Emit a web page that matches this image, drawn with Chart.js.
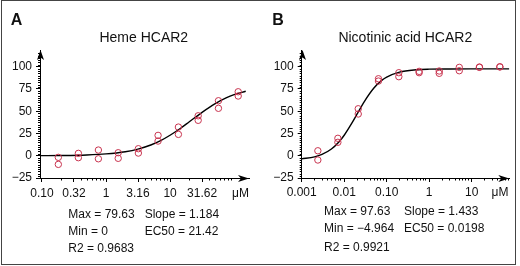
<!DOCTYPE html>
<html><head><meta charset="utf-8">
<script src="https://cdn.jsdelivr.net/npm/chart.js@4/dist/chart.umd.min.js"></script>
<style>
html,body{margin:0;padding:0;background:#fff;}
#fig{position:relative;width:520px;height:266px;overflow:hidden;font-family:"Liberation Sans",Arial,sans-serif;color:#111;}
#frame{position:absolute;left:1px;top:0;width:513px;height:263px;border:1px solid #444;pointer-events:none;}
canvas{position:absolute;top:0;}
.t{position:absolute;white-space:nowrap;line-height:1;font-size:12px;}
.c{transform:translate(-50%,-50%);}
.l{transform:translate(0,-50%);}
</style></head><body>
<div id="fig">
 <canvas id="cA" width="260" height="266" style="left:0;width:260px;height:266px"></canvas>
 <canvas id="cB" width="260" height="266" style="left:260px;width:260px;height:266px"></canvas>
 <div id="frame"></div>
 <div class="t c" style="left:16.5px;top:19.5px;font-size:16px;font-weight:bold">A</div>
 <div class="t c" style="left:278px;top:19.5px;font-size:16px;font-weight:bold">B</div>
 <div class="t c" style="left:143.8px;top:37px;font-size:14px">Heme HCAR2</div>
 <div class="t c" style="left:405.3px;top:36.7px;font-size:14px">Nicotinic acid HCAR2</div>
 <div class="t c" style="left:240.5px;top:193px">μM</div>
 <div class="t c" style="left:500px;top:192px">μM</div>
 <div class="t l" style="left:68.3px;top:214px">Max = 79.63</div>
 <div class="t l" style="left:144.7px;top:214px">Slope = 1.184</div>
 <div class="t l" style="left:68.3px;top:231px">Min = 0</div>
 <div class="t l" style="left:144.7px;top:231px">EC50 = 21.42</div>
 <div class="t l" style="left:68.3px;top:248.3px">R2 = 0.9683</div>
 <div class="t l" style="left:324px;top:210.7px">Max = 97.63</div>
 <div class="t l" style="left:404px;top:210.7px">Slope = 1.433</div>
 <div class="t l" style="left:324px;top:228.3px">Min = −4.964</div>
 <div class="t l" style="left:404px;top:228.3px">EC50 = 0.0198</div>
 <div class="t l" style="left:324px;top:246.7px">R2 = 0.9921</div>
</div>
<script>
// ---- Panel A: Heme HCAR2 ----
const concA = [0.18, 0.37, 0.76, 1.55, 3.2, 6.5, 13.5, 27.5, 57, 116];
const repA1 = [-1.8, 2.7, 6.4, 3.4, 7.9, 22.9, 32.2, 44.9, 61.8, 71.9];
const repA2 = [-9.7, -2.2, -3.4, -2.9, 3.0, 16.5, 24.0, 39.8, 53.3, 67.1];
const fitXA = [0.093, 0.2, 0.5, 1, 2, 3.16, 5, 7, 10, 15, 20, 31.62, 50, 75, 100, 152];
const fitYA = [0.13, 0.31, 0.92, 2.06, 4.53, 7.48, 12.06, 16.7, 23.0, 31.5, 38.2, 48.8, 58.3, 64.9, 68.6, 72.5];
const tickXA = [0.1, 0.316, 1, 3.16, 10, 31.62];
const tickLabelXA = ['0.10', '0.32', '1', '3.16', '10', '31.62'];

// ---- Panel B: Nicotinic acid HCAR2 ----
const concB = [0.0024, 0.0071, 0.0214, 0.064, 0.193, 0.58, 1.72, 5.1, 15.2, 46];
const repB1 = [5.6, 19.6, 52.8, 86.5, 93.3, 94.8, 95.2, 99.3, 99.7, 100];
const repB2 = [-4.8, 15.1, 46.9, 83.9, 88.8, 93.3, 92.6, 95.5, 99.3, 99.7];
const fitXB = [0.001, 0.002, 0.003, 0.005, 0.0075, 0.01, 0.015, 0.02, 0.03, 0.05, 0.075, 0.1, 0.2, 0.5, 1, 3, 10, 77];
const fitYB = [-3.56, -1.26, 1.47, 7.56, 15.5, 23.05, 36.3, 46.7, 61.2, 76.1, 84.4, 88.4, 94.0, 96.6, 97.26, 97.5, 97.6, 97.63];
const tickXB = [0.001, 0.01, 0.1, 1, 10];
const tickLabelXB = ['0.001', '0.01', '0.10', '1', '10'];

const tickY = [-25, 0, 25, 50, 75, 100];

const FONT = {family: '"Liberation Sans", Arial, sans-serif', size: 12};
const PT = '#c8344f';

const axisDecor = {
  id: 'axisDecor',
  afterDraw(chart) {
    const ctx = chart.ctx, ca = chart.chartArea;
    const xs = chart.scales.x, ys = chart.scales.y;
    const majors = xs.ticks.map(t => t.value);
    ctx.save();
    ctx.strokeStyle = '#000'; ctx.fillStyle = '#000'; ctx.lineWidth = 1;
    // x minor ticks (log)
    const d0 = Math.floor(Math.log10(xs.min)), d1 = Math.ceil(Math.log10(xs.max));
    ctx.beginPath();
    for (let d = d0; d <= d1; d++) {
      for (let m = 2; m <= 9; m++) {
        const v = m * Math.pow(10, d);
        if (v < xs.min || v > xs.max) continue;
        const px = xs.getPixelForValue(v);
        if (majors.some(mv => Math.abs(xs.getPixelForValue(mv) - px) < 2)) continue;
        const x = Math.round(px) + 0.5;
        ctx.moveTo(x, ca.bottom); ctx.lineTo(x, ca.bottom + 2.5);
      }
    }
    // y minor ticks
    for (let v = -22.5; v < 116; v += 2.5) {
      if (Math.abs(v % 25) < 0.01) continue;
      const y = Math.round(ys.getPixelForValue(v)) + 0.5;
      ctx.moveTo(ca.left, y); ctx.lineTo(ca.left - 2, y);
    }
    ctx.stroke();
    // arrowheads
    const ax = Math.round(ca.left) + 0.5;
    ctx.beginPath();
    ctx.moveTo(ax, ca.top);
    ctx.lineTo(ax - 3.5, ca.top + 10);
    ctx.lineTo(ax, ca.top + 7.5);
    ctx.lineTo(ax + 3.5, ca.top + 10);
    ctx.closePath(); ctx.fill();
    const ay = Math.round(ca.bottom) + 0.5;
    ctx.beginPath();
    ctx.moveTo(ca.right, ay);
    ctx.lineTo(ca.right - 11, ay - 3.5);
    ctx.lineTo(ca.right - 8, ay);
    ctx.lineTo(ca.right - 11, ay + 3.5);
    ctx.closePath(); ctx.fill();
    ctx.restore();
  }
};

function pts(xs, ys) { return xs.map((x, i) => ({x: x, y: ys[i]})); }

function build(id, o) {
  const ptStyle = {showLine: false, pointRadius: 3.2, pointBorderWidth: 1, pointBorderColor: PT, pointBackgroundColor: 'rgba(0,0,0,0)', borderColor: PT, order: 0};
  return new Chart(document.getElementById(id), {
    type: 'scatter',
    data: {datasets: [
      Object.assign({data: pts(o.conc, o.r1)}, ptStyle),
      Object.assign({data: pts(o.conc, o.r2)}, ptStyle),
      {data: pts(o.fx, o.fy), showLine: true, borderColor: '#000', borderWidth: 1.4, pointRadius: 0, cubicInterpolationMode: 'monotone', fill: false, order: 1}
    ]},
    options: {
      responsive: false, animation: false, events: [],
      layout: {padding: {left: 0, right: o.padR, top: 50, bottom: 58}},
      plugins: {legend: {display: false}, tooltip: {enabled: false}},
      scales: {
        x: {
          type: 'logarithmic', min: o.xmin, max: o.xmax,
          afterBuildTicks: s => { s.ticks = o.ticks.map(v => ({value: v})); },
          afterFit: s => { s.height = 30; },
          ticks: {autoSkip: false, maxRotation: 0, minRotation: 0, padding: o.xpad, color: '#111', font: FONT,
                  callback: (v, i) => o.labels[i]},
          grid: {display: true, drawOnChartArea: false, drawTicks: true, tickLength: 4, color: '#000', lineWidth: 1},
          border: {display: true, color: '#000', width: 1}
        },
        y: {
          type: 'linear', min: -25, max: 118.8,
          afterBuildTicks: s => { s.ticks = tickY.map(v => ({value: v})); },
          afterFit: s => { s.width = o.yw; },
          ticks: {padding: 4, color: '#111', font: FONT,
                  callback: v => (v < 0 ? '\u2212' + Math.abs(v) : String(v))},
          grid: {display: true, drawOnChartArea: false, drawTicks: true, tickLength: 4, color: '#000', lineWidth: 1},
          border: {display: true, color: '#000', width: 1}
        }
      }
    },
    plugins: [axisDecor]
  });
}

build('cA', {conc: concA, r1: repA1, r2: repA2, fx: fitXA, fy: fitYA, ticks: tickXA, labels: tickLabelXA,
             xmin: 0.0931, xmax: 171, padR: 11, yw: 40, xpad: 4});
build('cB', {conc: concB, r1: repB1, r2: repB2, fx: fitXB, fy: fitYB, ticks: tickXB, labels: tickLabelXB,
             xmin: 0.001, xmax: 76.7, padR: 10.7, yw: 41.7, xpad: 3});
</script>
</body></html>
